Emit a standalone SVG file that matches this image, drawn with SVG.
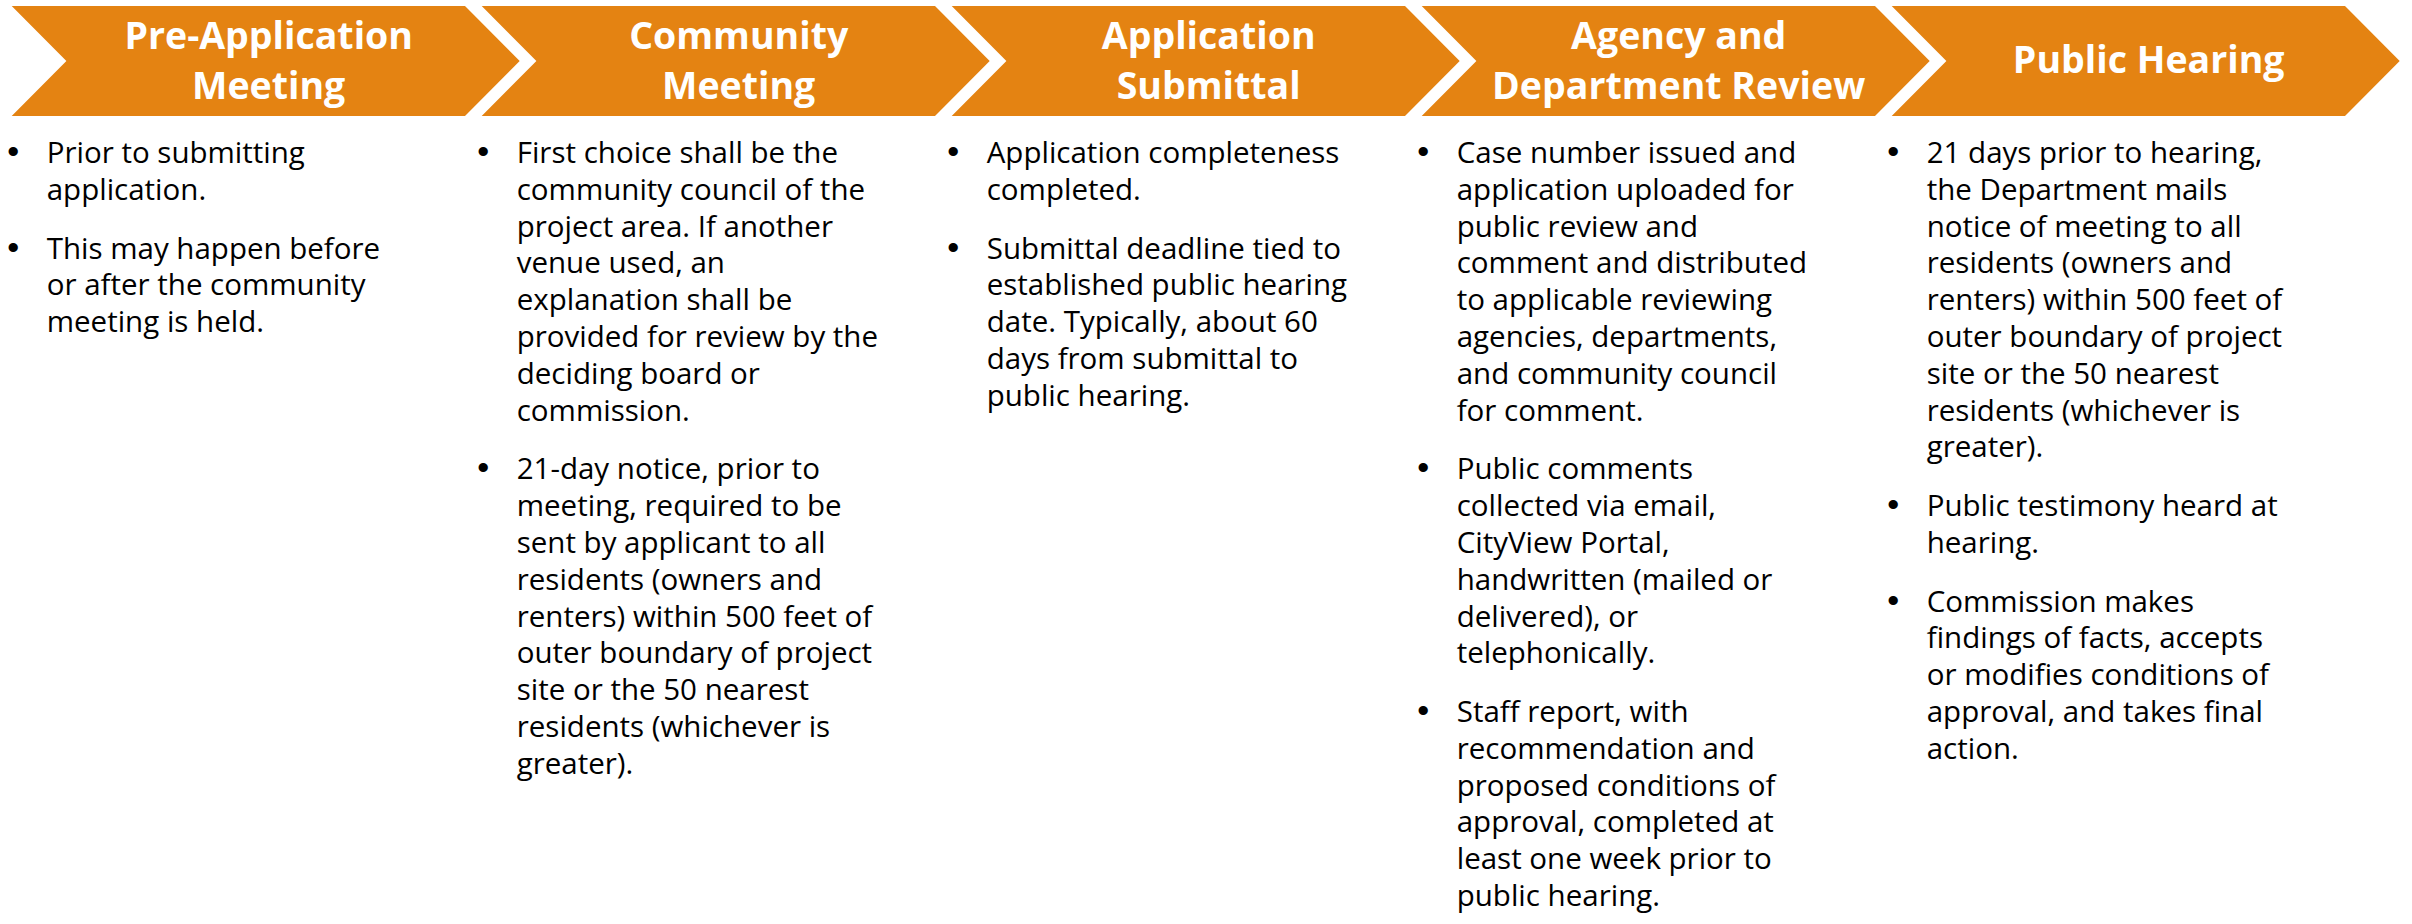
<svg xmlns="http://www.w3.org/2000/svg" width="2412" height="924" viewBox="0 0 2412 924">
<style>
.chev{fill:#E48312}
.hd{font-family:"Open Sans","Noto Sans",sans-serif;font-weight:700;font-size:37.5px;fill:#fff;text-anchor:middle}
.bd{font-family:"Open Sans","Noto Sans",sans-serif;font-size:29.5px;fill:#000}
.bl{font-family:"Liberation Sans",Arial,sans-serif;font-size:34px;fill:#000;text-anchor:middle}
</style>
<defs>
<path id="chev" d="M0,6 L453.3,6 L508,61 L453.3,116 L0,116 L54.7,61 Z"/>
</defs>
<rect width="2412" height="924" fill="#fff"/>
<g id="connectors"/>

<g id="step1" transform="translate(11.7,0)">
<use href="#chev" class="chev"/>
<text class="hd"><tspan x="257" y="49.3">Pre-Application</tspan><tspan x="257" y="99">Meeting</tspan></text>
<text class="bl"><tspan x="1.5" y="163">•</tspan><tspan x="1.5" y="258.5">•</tspan></text>
<text class="bd">
<tspan x="35" y="163">Prior to submitting</tspan>
<tspan x="35" y="199.8">application.</tspan>
<tspan x="35" y="258.5">This may happen before</tspan>
<tspan x="35" y="295.3">or after the community</tspan>
<tspan x="35" y="332.1">meeting is held.</tspan>
</text>
</g>

<g id="step2" transform="translate(481.7,0)">
<use href="#chev" class="chev"/>
<text class="hd"><tspan x="257" y="49.3">Community</tspan><tspan x="257" y="99">Meeting</tspan></text>
<text class="bl"><tspan x="1.5" y="163">•</tspan><tspan x="1.5" y="479.3">•</tspan></text>
<text class="bd">
<tspan x="35" y="163">First choice shall be the</tspan>
<tspan x="35" y="199.8">community council of the</tspan>
<tspan x="35" y="236.6">project area. If another</tspan>
<tspan x="35" y="273.4">venue used, an</tspan>
<tspan x="35" y="310.2">explanation shall be</tspan>
<tspan x="35" y="347">provided for review by the</tspan>
<tspan x="35" y="383.8">deciding board or</tspan>
<tspan x="35" y="420.6">commission.</tspan>
<tspan x="35" y="479.3">21-day notice, prior to</tspan>
<tspan x="35" y="516.1">meeting, required to be</tspan>
<tspan x="35" y="552.9">sent by applicant to all</tspan>
<tspan x="35" y="589.7">residents (owners and</tspan>
<tspan x="35" y="626.5">renters) within 500 feet of</tspan>
<tspan x="35" y="663.3">outer boundary of project</tspan>
<tspan x="35" y="700.1">site or the 50 nearest</tspan>
<tspan x="35" y="736.9">residents (whichever is</tspan>
<tspan x="35" y="773.7">greater).</tspan>
</text>
</g>

<g id="step3" transform="translate(951.7,0)">
<use href="#chev" class="chev"/>
<text class="hd"><tspan x="257" y="49.3">Application</tspan><tspan x="257" y="99">Submittal</tspan></text>
<text class="bl"><tspan x="1.5" y="163">•</tspan><tspan x="1.5" y="258.5">•</tspan></text>
<text class="bd">
<tspan x="35" y="163">Application completeness</tspan>
<tspan x="35" y="199.8">completed.</tspan>
<tspan x="35" y="258.5">Submittal deadline tied to</tspan>
<tspan x="35" y="295.3">established public hearing</tspan>
<tspan x="35" y="332.1">date. Typically, about 60</tspan>
<tspan x="35" y="368.9">days from submittal to</tspan>
<tspan x="35" y="405.7">public hearing.</tspan>
</text>
</g>

<g id="step4" transform="translate(1421.7,0)">
<use href="#chev" class="chev"/>
<text class="hd"><tspan x="257" y="49.3">Agency and</tspan><tspan x="257" y="99">Department Review</tspan></text>
<text class="bl"><tspan x="1.5" y="163">•</tspan><tspan x="1.5" y="479.3">•</tspan><tspan x="1.5" y="722">•</tspan></text>
<text class="bd">
<tspan x="35" y="163">Case number issued and</tspan>
<tspan x="35" y="199.8">application uploaded for</tspan>
<tspan x="35" y="236.6">public review and</tspan>
<tspan x="35" y="273.4">comment and distributed</tspan>
<tspan x="35" y="310.2">to applicable reviewing</tspan>
<tspan x="35" y="347">agencies, departments,</tspan>
<tspan x="35" y="383.8">and community council</tspan>
<tspan x="35" y="420.6">for comment.</tspan>
<tspan x="35" y="479.3">Public comments</tspan>
<tspan x="35" y="516.1">collected via email,</tspan>
<tspan x="35" y="552.9">CityView Portal,</tspan>
<tspan x="35" y="589.7">handwritten (mailed or</tspan>
<tspan x="35" y="626.5">delivered), or</tspan>
<tspan x="35" y="663.3">telephonically.</tspan>
<tspan x="35" y="722">Staff report, with</tspan>
<tspan x="35" y="758.8">recommendation and</tspan>
<tspan x="35" y="795.6">proposed conditions of</tspan>
<tspan x="35" y="832.4">approval, completed at</tspan>
<tspan x="35" y="869.2">least one week prior to</tspan>
<tspan x="35" y="906">public hearing.</tspan>
</text>
</g>

<g id="step5" transform="translate(1891.7,0)">
<use href="#chev" class="chev"/>
<text class="hd"><tspan x="257" y="73.3">Public Hearing</tspan></text>
<text class="bl"><tspan x="1.5" y="163">•</tspan><tspan x="1.5" y="516.1">•</tspan><tspan x="1.5" y="611.6">•</tspan></text>
<text class="bd">
<tspan x="35" y="163">21 days prior to hearing,</tspan>
<tspan x="35" y="199.8">the Department mails</tspan>
<tspan x="35" y="236.6">notice of meeting to all</tspan>
<tspan x="35" y="273.4">residents (owners and</tspan>
<tspan x="35" y="310.2">renters) within 500 feet of</tspan>
<tspan x="35" y="347">outer boundary of project</tspan>
<tspan x="35" y="383.8">site or the 50 nearest</tspan>
<tspan x="35" y="420.6">residents (whichever is</tspan>
<tspan x="35" y="457.4">greater).</tspan>
<tspan x="35" y="516.1">Public testimony heard at</tspan>
<tspan x="35" y="552.9">hearing.</tspan>
<tspan x="35" y="611.6">Commission makes</tspan>
<tspan x="35" y="648.4">findings of facts, accepts</tspan>
<tspan x="35" y="685.2">or modifies conditions of</tspan>
<tspan x="35" y="722">approval, and takes final</tspan>
<tspan x="35" y="758.8">action.</tspan>
</text>
</g>
</svg>
